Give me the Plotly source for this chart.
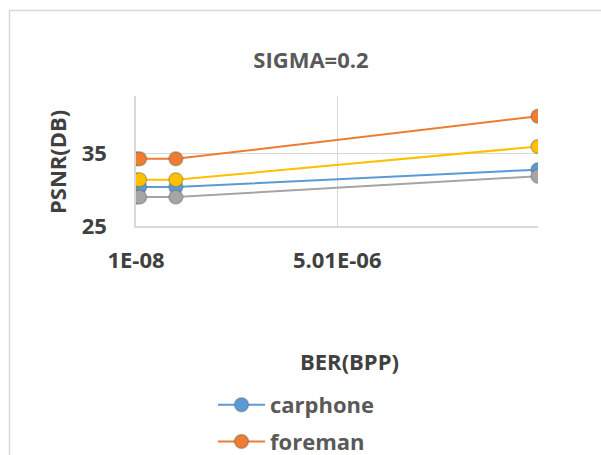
import plotly.graph_objects as go

# Data
ber = [1e-8, 1e-7, 1e-6, 1e-5]
carphone = [30.4, 30.4, 30.4, 32.8]
foreman = [34.3, 34.3, 34.3, 40.2]
akiyo = [29.0, 29.0, 29.0, 31.9]
news = [31.4, 31.4, 31.4, 36.0]
x_tickvals = [1e-8, 5.01e-6]
x_ticktext = ["1E-08", "5.01E-06"]
y_tickvals = [25, 35]
y_ticktext = ["25", "35"]

FONT = "Open Sans"
W, H = 601, 455
L, R, T, B = 136, 63, 96, 229
pw, ph = W - L - R, H - T - B

def px_x(px):
    return (px - L) / pw

def px_y(py):
    return (H - B - py) / ph

series = [
    ("carphone", carphone, "#5B9BD5", True),
    ("foreman", foreman, "#ED7D31", True),
    ("akiyo", akiyo, "#A5A5A5", False),
    ("news", news, "#FFC000", False),
]

fig = go.Figure()
for name, vals, col, show in series:
    fig.add_trace(go.Scatter(
        x=ber, y=vals, name=name, mode="lines+markers",
        line=dict(color=col, width=2),
        marker=dict(size=14, color=col, line=dict(color="rgba(90,90,90,0.35)", width=1.5)),
        showlegend=show, legendgroup=name,
    ))

fig.update_layout(
    width=W, height=H,
    margin=dict(l=L, r=R, t=T, b=B, autoexpand=False),
    paper_bgcolor="white", plot_bgcolor="white",
    font=dict(family=FONT, color="#404040", size=22, weight="bold"),
    title=dict(text="SIGMA=0.2", x=311 / W, xanchor="center",
               y=1 - 60 / H, yanchor="middle",
               font=dict(family=FONT, size=22, color="#595959", weight="bold")),
    xaxis=dict(range=[1e-8, 1e-5], tickvals=x_tickvals, ticktext=x_ticktext,
               showgrid=True, gridcolor="#d9d9d9", gridwidth=1,
               showline=True, linecolor="#d9d9d9", linewidth=1.5,
               zeroline=False, ticks="", automargin=False,
               ticklabelstandoff=14,
               tickfont=dict(family=FONT, size=22, color="#404040", weight="bold")),
    yaxis=dict(range=[25, 43], tickvals=y_tickvals, ticktext=y_ticktext,
               showgrid=True, gridcolor="#d9d9d9", gridwidth=1,
               showline=True, linecolor="#d9d9d9", linewidth=1.5,
               zeroline=False, ticks="", automargin=False,
               ticklabelstandoff=23,
               tickfont=dict(family=FONT, size=22, color="#404040", weight="bold")),
    legend=dict(x=px_x(213), y=px_y(384), xanchor="left", yanchor="top",
                bgcolor="rgba(0,0,0,0)", tracegroupgap=5, itemwidth=47,
                font=dict(family=FONT, size=22, color="#595959", weight="bold")),
    annotations=[
        dict(text="BER(BPP)", xref="paper", yref="paper", x=px_x(349), y=px_y(361),
             showarrow=False, xanchor="center", yanchor="middle",
             font=dict(family=FONT, size=22, color="#404040", weight="bold")),
        dict(text="PSNR(DB)", xref="paper", yref="paper", x=px_x(57), y=px_y(162),
             showarrow=False, textangle=-90, xanchor="center", yanchor="middle",
             font=dict(family=FONT, size=22, color="#404040", weight="bold")),
    ],
    shapes=[
        dict(type="rect", xref="paper", yref="paper",
             x0=px_x(9.5), y0=px_y(700), x1=px_x(800), y1=px_y(10.5),
             line=dict(color="#d9d9d9", width=1.5), fillcolor="rgba(0,0,0,0)", layer="below"),
    ],
)

fig.write_html("out.html", config={"displayModeBar": False},
               post_script="document.body.style.margin='0';")
